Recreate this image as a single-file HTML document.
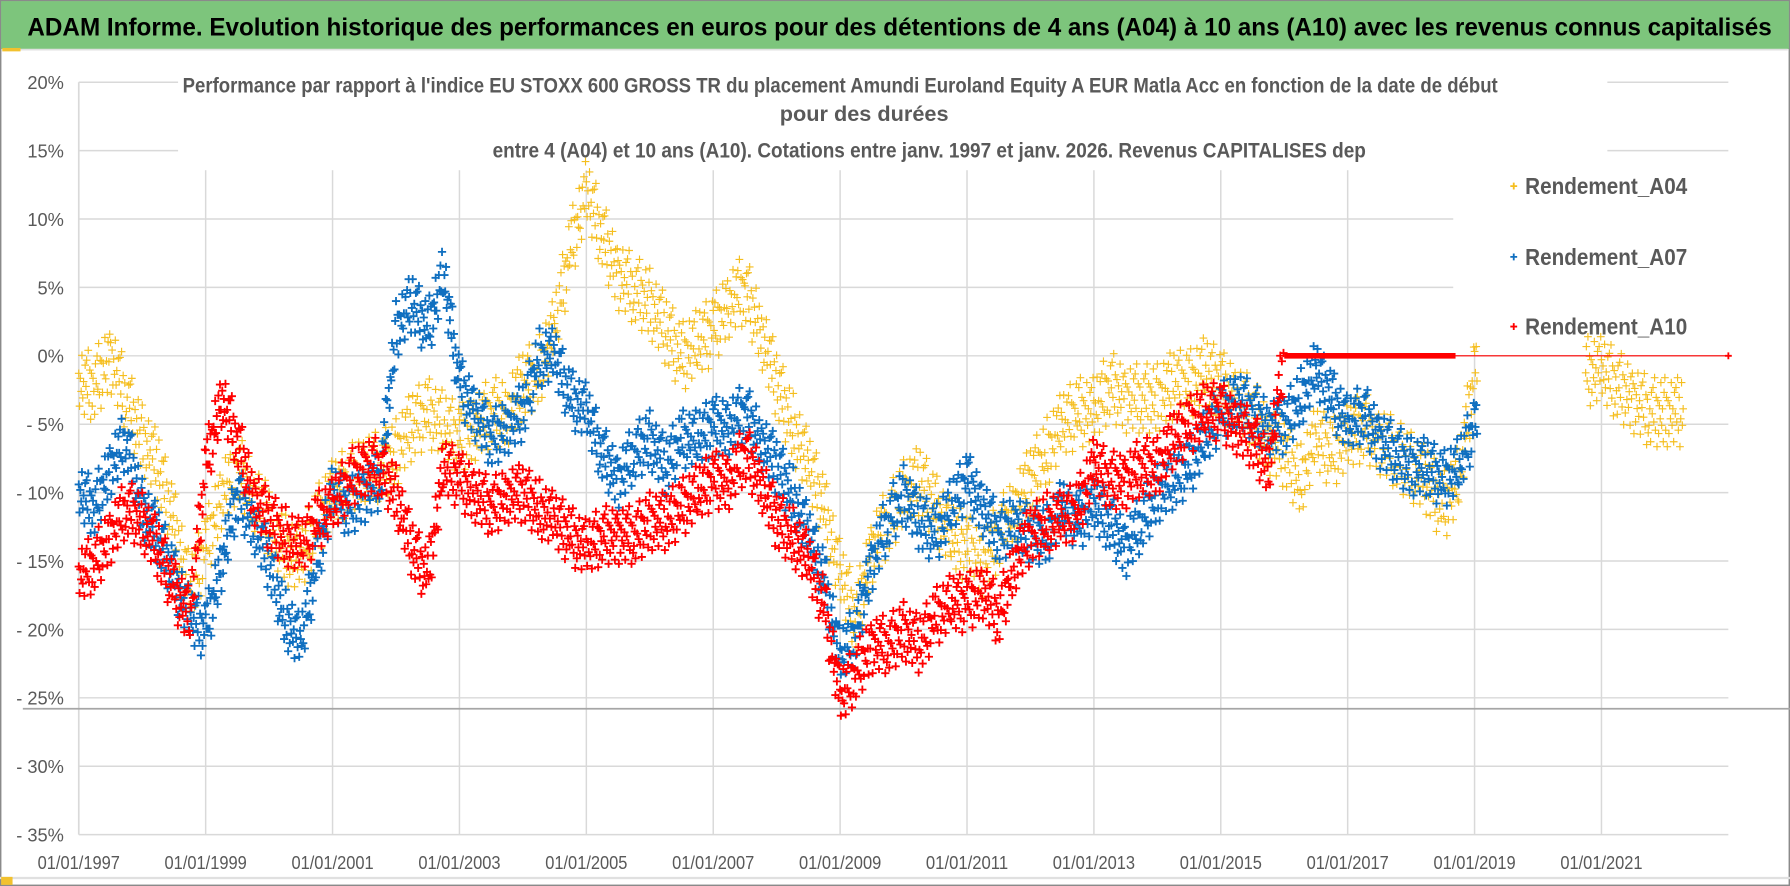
<!DOCTYPE html>
<html><head><meta charset="utf-8">
<style>
html,body{margin:0;padding:0;background:#fff;}
svg{display:block;}
text{font-family:"Liberation Sans Narrow","Liberation Sans",sans-serif;}
</style></head>
<body>
<svg id="chart" width="1790" height="886" viewBox="0 0 1568 776" preserveAspectRatio="none" xmlns="http://www.w3.org/2000/svg">
  <rect x="0" y="0" width="1568" height="776" fill="#fff"/>
  <rect x="0.5" y="0.5" width="1567" height="775" fill="none" stroke="#8a8a8a" stroke-width="1.5"/>
  <rect x="1" y="1" width="1566" height="42" fill="#7dc57c"/>
  <rect x="2" y="42" width="16" height="3" fill="#f2c12e"/>
  <line x1="18" y1="43.5" x2="1566" y2="43.5" stroke="#e0e0e0" stroke-width="1.5"/>
  <text x="24" y="31" font-size="22" font-weight="bold" fill="#000" textLength="1528" lengthAdjust="spacingAndGlyphs">ADAM Informe. Evolution historique des performances en euros pour des détentions de 4 ans (A04) à 10 ans (A10) avec les revenus connus capitalisés</text>
  <g id="grid"></g>
  <g id="marks"></g>
  <g id="axes"></g>
  <rect x="0" y="768" width="1568" height="2" fill="#e0e0e0"/>
  <rect x="1" y="768" width="10" height="7" fill="#f2c12e"/>
</svg>
<script>
const years = [];
for (let i = 0; i < 104; i++) years.push(1997 + i * 0.25);
const a04 = [
-2,-2,0,-3, -6,-8,-12,-17, -14,-10,-8,-10, -12,-14,-15,-12, -10,-9,-8,-8,
-7,-5,-4,-5, -6,-5,-4,-4, -2,-1,2,8, 12,9,6,5, 4,2,0,1, 2,4,5,2,
-2,-5,-8,-11, -16,-19,-14,-12, -10,-9,-11,-13, -14,-15,-13,-11, -9,-7,-5,-4,
-4,-2,-3,-3, -3,-2,-2,-1, -2,-3,-4,-6, -7,-9,-6,-7, -6,-5,-6,-7, -8,-9,-11,-9,
-1,null,null,null, null,null,null,-1, -1,-2,-3,-4, -4,-4,null,null];
const a07 = [
-10,-11,-8,-6, -11,-13,-16,-19, -20,-15,-10,-12, -15,-19,-21,-15, -10,-11,-10,-9,
2,4,2,6, -2,-4,-6,-5, -4,0,0,-3, -4,-7,-9,-7, -6,-8,-6,-6, -5,-5,-4,-6,
-8,-10,-13,-16, -22,-20,-15,-12, -10,-12,-13,-11, -9,-11,-13,-12, -13,-13,-11,-12,
-11,-12,-14,-12, -10,-9,-8,-6, -4,-3,-4,-5, -5,-3,-1,-3, -5,-4,-6,-7, -8,-8,-9,-8,
-5,null,null,null, null,null,null,null, null,null,null,null, null,null,null,null];
const a10 = [
-16,-15,-13,-11, -12,-14,-17,-19, -8,-3,-6,-10, -12,-13,-14,-12, -11,-9,-8,-8,
-10,-14,-16,-8, -9,-10,-11,-10, -10,-11,-12,-13, -14,-13,-13,-13, -12,-12,-11,-10, -9,-9,-7,-9,
-12,-13,-15,-18, -25,-23,-21,-21, -20,-21,-19,-18, -18,-17,-19,-15, -13,-12,-12,-11,
-8,-9,-9,-8, -8,-6,-5,-4, -4,-5,-6,-8, 0,0,0,0, 0,0,0,0, 0,0,0,0,
0,0,0,0, 0,0,0,0, 0,0,0,0, 0,0,0,0];
const yTicks = [20,15,10,5,0,-5,-10,-15,-20,-25,-30,-35];
const yTickLabels = ["20%","15%","10%","5%","0%","- 5%","- 10%","- 15%","- 20%","- 25%","- 30%","- 35%"];
const xTicks = [1997,1999,2001,2003,2005,2007,2009,2011,2013,2015,2017,2019,2021];
const xTickLabels = ["01/01/1997","01/01/1999","01/01/2001","01/01/2003","01/01/2005","01/01/2007","01/01/2009","01/01/2011","01/01/2013","01/01/2015","01/01/2017","01/01/2019","01/01/2021"];
const seriesNames = ["Rendement_A04","Rendement_A07","Rendement_A10"];
const refLine = -25.8;

const NS = "http://www.w3.org/2000/svg";
const X0 = 69, X1 = 1514, Y0 = 72, Y1 = 731;
const xS = v => X0 + (v - 1997) * (X1 - X0) / 26;
const yS = v => Y0 + (20 - v) * (Y1 - Y0) / 55;
function mk(tag, attrs, parent, txt) {
  const e = document.createElementNS(NS, tag);
  for (const k in attrs) e.setAttribute(k, attrs[k]);
  if (txt !== undefined) e.textContent = txt;
  parent.appendChild(e);
  return e;
}
const grid = document.getElementById('grid'), marks = document.getElementById('marks'), axes = document.getElementById('axes');

yTicks.forEach((t, i) => {
  const l = mk('line', {x1: X0, x2: X1, y1: yS(t), y2: yS(t), stroke: '#d9d9d9', 'stroke-width': 1.3}, grid);
  
  
  const tx = mk('text', {x: 56, y: yS(t) + 6, 'text-anchor': 'end', 'font-size': 16, fill: '#595959'}, axes, yTickLabels[i]);
  
  
});
xTicks.forEach((t, i) => {
  if (i > 0) {
    const l = mk('line', {x1: xS(t), x2: xS(t), y1: 149, y2: Y1, stroke: '#d9d9d9', 'stroke-width': 1.3}, grid);
    
    
  }
  const tx = mk('text', {x: xS(t), y: 761, 'text-anchor': 'middle', 'font-size': 16, fill: '#595959', textLength: 72, lengthAdjust: 'spacingAndGlyphs'}, axes, xTickLabels[i]);
  
  
});
const ax = mk('line', {x1: X0, x2: X0, y1: Y0, y2: Y1, stroke: '#d9d9d9', 'stroke-width': 1.5}, grid);


const ref = mk('line', {x1: 20, x2: 1568, y1: yS(refLine), y2: yS(refLine), stroke: '#a6a6a6', 'stroke-width': 1.5}, grid);



const tb = mk('rect', {x: 156, y: 58, width: 1252, height: 91, fill: '#fff'}, grid);


const lb = mk('rect', {x: 1273, y: 140, width: 242, height: 167, fill: '#fff'}, grid);



const jit = [0.6,-1.4,0.3,-0.5,1.7,-0.9,0.1,-1.9,1.1,-0.2,1.4,-0.7,2.0,-1.2,0.8,-2.2];
const colors = ['#f5be1e', '#0f6fc0', '#ff0000'];
const sizes = [3.4, 3.6, 3.6];
const widths = [1.0, 1.6, 1.6];
function drawSeries(vals, ci, name) {
  const g = mk('g', {stroke: colors[ci], 'stroke-width': widths[ci], fill: 'none'}, marks);
  
  
  let d = '';
  const K = 20;
  for (let i = 0; i < vals.length; i++) {
    const v = vals[i];
    if (v === null) continue;
    if (ci === 2 && v === 0) continue;
    const hasNext = (i + 1 < vals.length && vals[i + 1] !== null);
    const nxt = hasNext ? vals[i + 1] : v;
    const kN = hasNext ? K : 4;
    for (let k = 0; k < kN; k++) {
      const t = k / K;
      const x = xS(years[i] + t * 0.25);
      const val = v + (nxt - v) * t + jit[(i * 7 + k) % jit.length] * (ci === 0 ? 1.2 : 1);
      const y = yS(val), s = sizes[ci];
      d += `M${(x - s).toFixed(1)} ${y.toFixed(1)}h${2 * s}M${x.toFixed(1)} ${(y - s).toFixed(1)}v${2 * s}`;
    }
  }
  mk('path', {d: d}, g);
  if (ci === 2) {
    const first = vals.indexOf(0);
    const thick = mk('line', {x1: xS(years[first]), x2: xS(2018.7), y1: yS(0), y2: yS(0), stroke: colors[2], 'stroke-width': 5}, g);
    
    
    const thin = mk('line', {x1: xS(2018.7), x2: X1, y1: yS(0), y2: yS(0), stroke: colors[2], 'stroke-width': 1}, g);
    
    
    const endm = mk('path', {d: `M${X1 - 3} ${yS(0)}h6M${X1} ${yS(0) - 3}v6`, stroke: colors[2], 'stroke-width': 1.6}, g);
    
    
  }
}
drawSeries(a04, 0, 'series-a04');
drawSeries(a07, 1, 'series-a07');
drawSeries(a10, 2, 'series-a10');

const titleLines = [
  ["Performance par rapport à l'indice EU STOXX 600 GROSS TR  du placement Amundi Euroland Equity A EUR Matla Acc en fonction de la date de début", 736, 81, 1152],
  ["pour des durées", 757, 106, 0],
  ["entre 4 (A04) et 10 ans (A10).  Cotations entre janv. 1997 et janv. 2026. Revenus CAPITALISES dep", 814, 138, 765]
];
titleLines.forEach(tl => {
  const attrs = {x: tl[1], y: tl[2], 'text-anchor': 'middle', 'font-size': 19, 'font-weight': 'bold', fill: '#595959'};
  if (tl[3]) { attrs.textLength = tl[3]; attrs.lengthAdjust = 'spacingAndGlyphs'; }
  const t = mk('text', attrs, axes, tl[0]);
  
  
});

const legY = [163, 225, 286];
seriesNames.forEach((n, i) => {
  const g = mk('g', {}, axes);
  
  
  const mx = 1326, my = legY[i];
  mk('path', {d: `M${mx - 3} ${my}h6M${mx} ${my - 3}v6`, stroke: colors[i], 'stroke-width': 1.6}, g);
  mk('text', {x: 1336, y: my + 7, 'font-size': 20, 'font-weight': 'bold', fill: '#595959', textLength: 142, lengthAdjust: 'spacingAndGlyphs'}, g, n);
});
</script>
</body></html>
